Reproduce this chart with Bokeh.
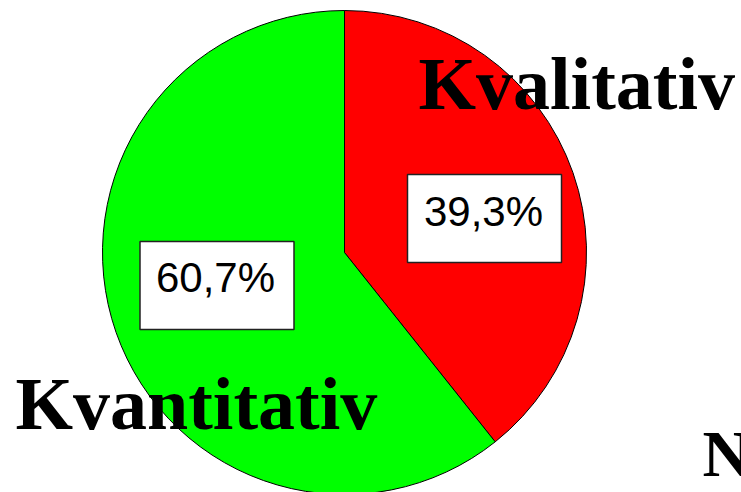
import numpy as np
from bokeh.plotting import figure
from bokeh.models import Range1d, ColumnDataSource
from bokeh.core.properties import value
from bokeh.embed import file_html
from bokeh.resources import INLINE

# data
categories = ["Kvalitativ", "Kvantitativ"]
shares = [39.3, 60.7]
colors = ["#ff0000", "#00ff00"]
pct_labels = ["39,3%", "60,7%"]

W, H = 741, 492
def X(px): return px
def Y(py): return H - py

p = figure(width=W, height=H, output_backend="svg", toolbar_location=None,
           x_range=Range1d(0, W), y_range=Range1d(0, H), min_border=0)
p.axis.visible = False
p.grid.visible = False
p.outline_line_color = None
p.background_fill_color = "white"
p.border_fill_color = "white"

cx, cy, r = X(344), Y(252), 242
frac = np.array(shares) / sum(shares)
ends = np.pi / 2 - 2 * np.pi * np.cumsum(frac)
starts = np.concatenate([[np.pi / 2], ends[:-1]])
src = ColumnDataSource(dict(start=starts, end=ends, color=colors))
p.wedge(x=cx, y=cy, radius=r, start_angle="start", end_angle="end",
        direction="clock", fill_color="color", line_color="black",
        line_width=1, source=src)

# percentage boxes
box_cx = [X(484), X(216.5)]
box_cy = [Y(218), Y(285)]
p.rect(x=box_cx, y=box_cy, width=154, height=88, fill_color="white",
       line_color="#222222", line_width=1.5)
p.text(x=[X(483), X(215)], y=[Y(211), Y(277)], text=pct_labels,
       text_font=value("Liberation Sans"), text_font_size="42px",
       text_align="center", text_baseline="alphabetic", text_color="black")

# category labels
p.text(x=[X(418), X(15)], y=[Y(83), Y(403)], text=categories,
       text_font=value("Liberation Serif"), text_font_style="bold",
       text_font_size="74px", text_align="left", text_baseline="alphabetic",
       text_color="black")
p.text(x=[X(702)], y=[Y(453)], text=["N"],
       text_font=value("Liberation Serif"), text_font_style="bold",
       text_font_size="66px", text_align="left", text_baseline="alphabetic",
       text_color="black")

open("out.html", "w").write(file_html(p, INLINE))
